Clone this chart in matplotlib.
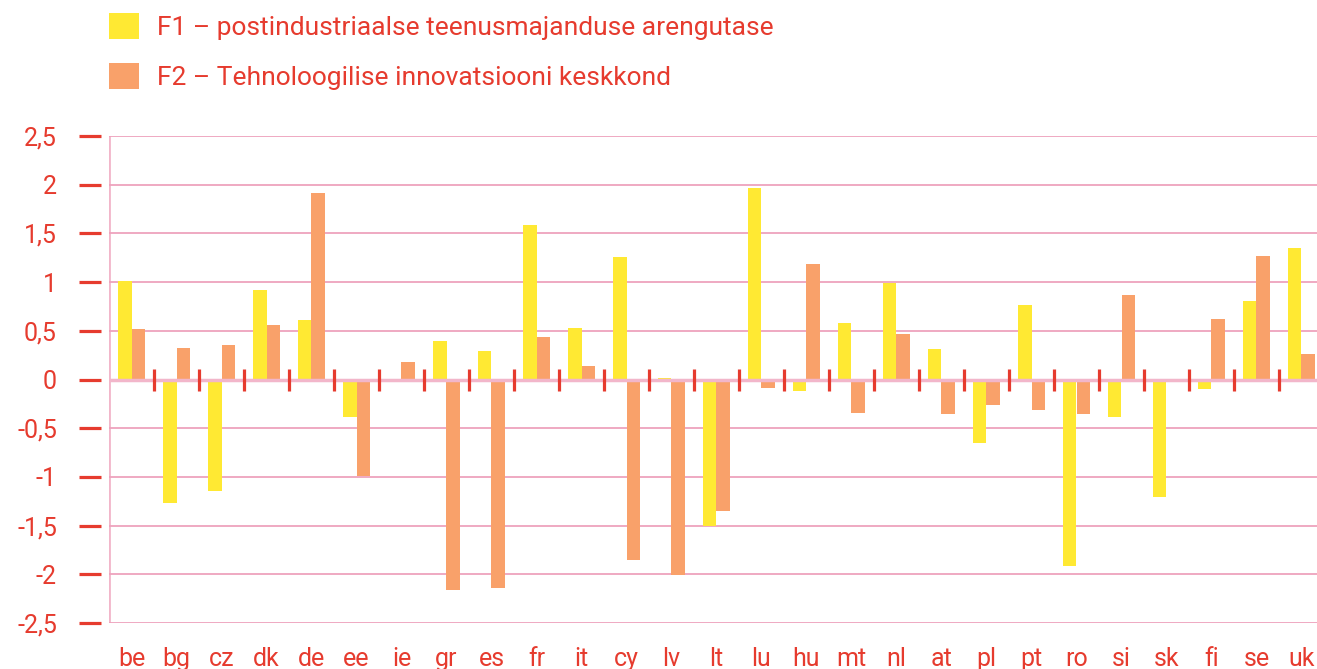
import matplotlib
matplotlib.use("Agg")
import matplotlib.pyplot as plt
import numpy as np

# riikide koodid ja faktorite väärtused
countries = ["be", "bg", "cz", "dk", "de", "ee", "ie", "gr", "es", "fr", "it", "cy", "lv", "lt",
             "lu", "hu", "mt", "nl", "at", "pl", "pt", "ro", "si", "sk", "fi", "se", "uk"]
f1 = [1.01, -1.27, -1.14, 0.92, 0.61, -0.38, -0.02, 0.40, 0.29, 1.59, 0.53, 1.26, 0.02, -1.50,
      1.97, -0.12, 0.58, 0.99, 0.31, -0.65, 0.76, -1.91, -0.39, -1.21, -0.10, 0.81, 1.35]
f2 = [0.52, 0.32, 0.35, 0.56, 1.91, -0.99, 0.18, -2.16, -2.14, 0.44, 0.14, -1.85, -2.01, -1.35,
      -0.09, 1.19, -0.34, 0.47, -0.35, -0.26, -0.31, -0.35, 0.87, -0.02, 0.62, 1.27, 0.26]
labels = ["F1 – postindustriaalse teenusmajanduse arengutase",
          "F2 – Tehnoloogilise innovatsiooni keskkond"]
yticks = [2.5, 2, 1.5, 1, 0.5, 0, -0.5, -1, -1.5, -2, -2.5]

red = "#e63b2e"
pink = "#eea3bd"
yellow = "#ffe933"
orange = "#f9a16a"

plt.rcParams['font.family'] = ['Roboto', 'DejaVu Sans']
fs = 18
fs_leg = 19

W, H = 1317, 669
fig = plt.figure(figsize=(W/100, H/100), dpi=100)
ax = fig.add_axes([109/W, (H-623)/H, 1-109/W, (623-136)/H])

x = np.arange(len(countries))
bw = 0.29
b1 = ax.bar(x - bw/2, f1, bw, color=yellow, zorder=2, label=labels[0])
b2 = ax.bar(x + bw/2, f2, bw, color=orange, zorder=2, label=labels[1])

# eraldusjooned nulljoonel
ax.vlines(x[:-1] + 0.5, -0.115, 0.11, color=red, lw=2.3, zorder=4)
ax.axhline(0, color="#f2b6ca", lw=2.5, zorder=3)

ax.set_xlim(-0.5, (W-109)/45 - 0.5)
ax.set_ylim(-2.5, 2.5)
ax.set_yticks(yticks)
ax.set_yticklabels([("%g" % v).replace(".", ",") for v in yticks])
ax.set_xticks(x)
ax.set_xticklabels(countries)

ax.grid(axis='y', color=pink, lw=1.3, zorder=0)
ax.axvline(-0.5, color="#f2b6ca", lw=2, zorder=1)
for s in ["top", "right", "bottom"]:
    ax.spines[s].set_visible(False)
ax.spines["left"].set_position(("outward", 6))
ax.spines["left"].set_visible(False)

ax.tick_params(axis='y', colors=red, labelcolor=red, labelsize=fs, length=15.5, width=2.3, pad=16)
ax.tick_params(axis='x', length=0, labelcolor=red, labelsize=fs, pad=17)

fig.legend(handles=[b1, b2], loc="upper left", bbox_to_anchor=(109/W, 1-13/H), frameon=False,
           fontsize=fs_leg, labelcolor=red, borderpad=0, borderaxespad=0, handlelength=1.14,
           handleheight=1.14, handletextpad=0.68, labelspacing=0.87)

plt.savefig("out.png", dpi=100)
